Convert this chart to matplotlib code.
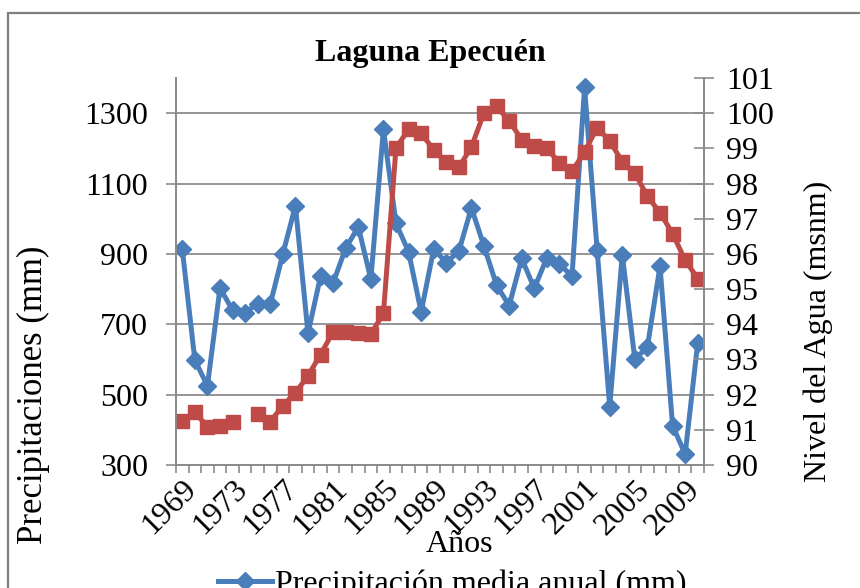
import matplotlib
matplotlib.use("Agg")
import matplotlib.pyplot as plt
import numpy as np
from matplotlib.patches import Rectangle

# data
years = list(range(1969, 2011))
precip = [913, 598, 525, 803, 740, 733, 759, 757, 900, 1037,
          674, 837, 818, 916, 977, 828, 1255, 987, 906, 735,
          914, 875, 908, 1031, 922, 811, 753, 887, 802, 889,
          871, 837, 1373, 911, 466, 898, 600, 636, 865, 412,
          331, 647]
nivel = [91.26, 91.50, 91.09, 91.12, 91.21, np.nan, 91.44, 91.23, 91.69, 92.05,
         92.54, 93.14, 93.79, 93.79, 93.74, 93.72, 94.31, 99.01, 99.54, 99.44,
         98.95, 98.62, 98.46, 99.04, 100.01, 100.20, 99.78, 99.25, 99.06, 99.00,
         98.59, 98.35, 98.90, 99.59, 99.21, 98.62, 98.29, 97.64, 97.17, 96.58,
         95.82, 95.30]

title = "Laguna Epecuén"
left_label = "Precipitaciones (mm)"
right_label = "Nivel del Agua (msnm)"
x_label = "Años"
blue_name = "Precipitación media anual (mm)"
red_name = "Nivel del Agua (msnm)"

BLUE = "#4A7EBB"
RED = "#BE4B48"
GRAY = "#8C8C8C"
FS = 23

plt.rcParams["font.family"] = ["Liberation Serif", "DejaVu Serif"]

fig = plt.figure(figsize=(8.6, 5.88), dpi=100)
ax = fig.add_axes([176 / 860, 1 - 465 / 588, 528 / 860, 387 / 588])
ax2 = ax.twinx()

x = np.arange(len(years))
ax.plot(x, precip, color=BLUE, lw=3.6, marker="D", ms=9, label=blue_name)
ax2.plot(x, nivel, color=RED, lw=3.6, marker="s", ms=9.5, label=red_name)

ax.set_xlim(-0.5, len(years) - 0.5)
ax.set_ylim(300, 1400)
ax2.set_ylim(90, 101)

ax.set_yticks(range(300, 1301, 200))
ax2.set_yticks(range(90, 102))
ax.grid(axis="y", color=GRAY, lw=1.3)
ax.set_axisbelow(True)

# labels every 4 years, ticks between every category
lab_idx = list(range(0, len(years), 4))
ax.set_xticks(lab_idx)
ax.set_xticklabels([str(years[i]) for i in lab_idx], rotation=45,
                   ha="right", va="top", rotation_mode="anchor")
ax.set_xticks(np.arange(-0.5, len(years), 1), minor=True)
ax.tick_params(axis="x", which="major", length=0, pad=7, labelsize=FS)
ax.tick_params(axis="x", which="minor", length=6, width=1.2, color=GRAY, direction="out")
ax.tick_params(axis="y", length=7, width=1.2, color=GRAY, pad=13, labelsize=FS)
ax2.tick_params(axis="y", length=14, width=1.2, color=GRAY, direction="inout",
                pad=9, labelsize=FS)

for a in (ax, ax2):
    a.spines["top"].set_visible(False)
    for s in ("left", "right", "bottom"):
        a.spines[s].set_color(GRAY)
        a.spines[s].set_linewidth(1.3)

fig.text(430 / 860, 1 - 53 / 588, title, ha="center", va="center",
         fontsize=FS, fontweight="bold")
fig.text(33 / 860, 1 - 395 / 588, left_label, rotation=90, ha="center",
         va="center", fontsize=FS + 2)
fig.text(818 / 860, 1 - 331 / 588, right_label, rotation=90, ha="center",
         va="center", fontsize=FS)
fig.text(460 / 860, 1 - 545 / 588, x_label, ha="center", va="center", fontsize=FS)

h1, l1 = ax.get_legend_handles_labels()
h2, l2 = ax2.get_legend_handles_labels()
fig.legend(h1 + h2, l1 + l2, loc="upper center", bbox_to_anchor=(452 / 860, 1 - 554 / 588),
           frameon=False, fontsize=FS, handlelength=1.7, handletextpad=0.1,
           borderpad=0, labelspacing=0.2)

# chart-area border, running off the right and bottom edges like the source
fig.add_artist(Rectangle((8 / 860, -0.2), 1.2, 1.2 - 13 / 588,
                         transform=fig.transFigure, fill=False,
                         edgecolor="#7F7F7F", lw=1.6))

fig.savefig("out.png", dpi=100)
